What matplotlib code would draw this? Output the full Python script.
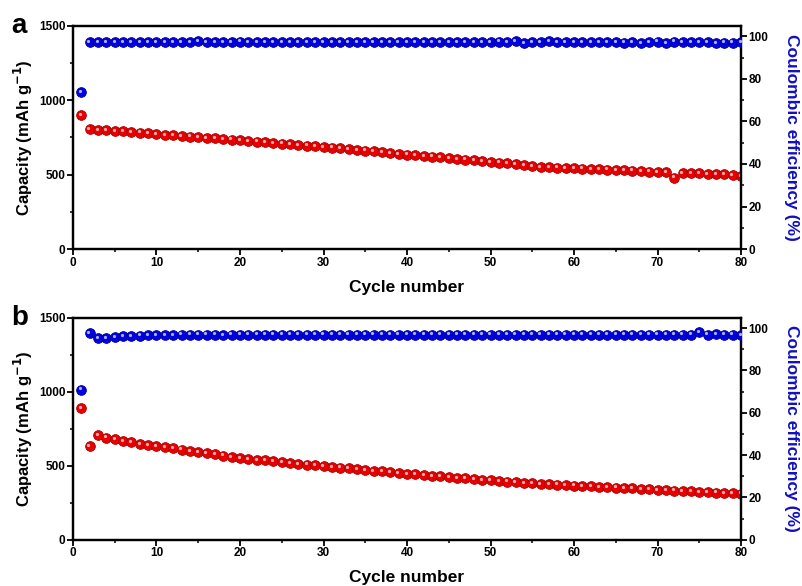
import numpy as np
import matplotlib
matplotlib.use("Agg")
import matplotlib.pyplot as plt
import matplotlib.transforms as mtransforms
from matplotlib.ticker import MultipleLocator

plt.rcParams['font.family'] = ['Liberation Sans', 'DejaVu Sans']
plt.rcParams['font.weight'] = 'bold'
plt.rcParams['mathtext.default'] = 'bf'

cycles = np.arange(1, 81)

# panel a
cap_a = [900, 805, 800, 797, 793, 790, 786, 782, 777, 772,
         768, 765, 761, 756, 752, 748, 744, 740, 735, 730,
         726, 722, 717, 713, 708, 704, 699, 695, 690, 685,
         681, 676, 671, 666, 661, 656, 651, 646, 640, 635,
         630, 626, 621, 616, 611, 606, 601, 596, 591, 586,
         581, 576, 571, 566, 558, 548, 550, 547, 545, 542,
         540, 538, 536, 534, 532, 530, 527, 524, 521, 518,
         516, 480, 512, 510, 508, 502, 506, 503, 495, 492]
eff_a = [74.0, 97.4, 97.4, 97.4, 97.5, 97.4, 97.4, 97.4, 97.4, 97.4,
         97.4, 97.4, 97.2, 97.4, 97.8, 97.4, 97.4, 97.3, 97.4, 97.6,
         97.4, 97.4, 97.4, 97.3, 97.4, 97.4, 97.4, 97.2, 97.4, 97.4,
         97.4, 97.4, 97.4, 97.4, 97.4, 97.4, 97.4, 97.3, 97.4, 97.4,
         97.4, 97.5, 97.4, 97.4, 97.4, 97.4, 97.3, 97.4, 97.4, 97.4,
         97.6, 97.4, 97.8, 96.9, 97.4, 97.3, 97.8, 97.2, 97.4, 97.4,
         97.5, 97.4, 97.3, 97.4, 97.3, 97.1, 97.4, 96.9, 97.4, 97.6,
         96.9, 97.6, 97.4, 97.4, 97.4, 97.4, 96.9, 97.1, 97.1, 97.3]

# panel b
cap_b = [890, 632, 705, 690, 678, 668, 657, 648, 640, 632,
         624, 616, 608, 600, 592, 584, 576, 568, 560, 552,
         546, 540, 535, 529, 523, 518, 513, 507, 502, 497,
         492, 487, 481, 476, 471, 466, 461, 456, 450, 445,
         441, 436, 432, 427, 423, 418, 414, 409, 405, 400,
         396, 392, 388, 385, 381, 378, 375, 372, 368, 365,
         362, 360, 357, 354, 352, 349, 346, 343, 340, 337,
         334, 332, 329, 327, 324, 321, 318, 316, 313, 311]
eff_b = [71.0, 97.6, 95.3, 95.5, 95.8, 96.1, 96.3, 96.5, 96.7, 96.8,
         96.9, 96.9, 97.0, 97.0, 97.0, 97.0, 97.0, 96.8, 97.0, 97.0,
         97.0, 97.0, 97.0, 97.0, 97.0, 97.0, 97.0, 97.0, 97.0, 97.0,
         97.0, 97.0, 97.0, 97.0, 97.0, 97.0, 97.0, 97.0, 97.0, 97.0,
         97.0, 97.0, 97.0, 97.0, 97.0, 97.0, 97.0, 97.0, 97.0, 97.0,
         97.0, 97.0, 97.0, 97.0, 97.0, 97.0, 97.0, 97.0, 97.0, 97.0,
         97.0, 97.0, 97.0, 97.0, 97.0, 97.0, 97.0, 97.0, 97.0, 97.0,
         97.0, 97.0, 97.0, 97.0, 98.1, 97.0, 97.1, 97.0, 97.0, 96.9]

red, red_edge, red_hi = '#e80000', '#a80000', '#ffb0b0'
blue, blue_edge, blue_hi = '#0000e0', '#000095', '#b0b0ff'

fig = plt.figure(figsize=(8.02, 5.86), dpi=100)


def spheres(ax, x, y, col, edge, hi):
    ax.plot(x, y, 'o', ms=7, mfc=col, mec=edge, mew=0.6, zorder=3)
    shift = mtransforms.offset_copy(ax.transData, fig=fig, x=-1.2, y=1.2, units='dots')
    ax.plot(x, y, 'o', ms=2.3, mfc=hi, mec='none', transform=shift, zorder=4)


def panel(rect, cap, eff, letter):
    ax = fig.add_axes(rect)
    ax2 = ax.twinx()
    spheres(ax, cycles, cap, red, red_edge, red_hi)
    spheres(ax2, cycles, eff, blue, blue_edge, blue_hi)

    ax.set_xlim(0, 80)
    ax.set_ylim(0, 1500)
    ax2.set_ylim(0, 105)
    ax.xaxis.set_major_locator(MultipleLocator(10))
    ax.xaxis.set_minor_locator(MultipleLocator(5))
    ax.yaxis.set_major_locator(MultipleLocator(500))
    ax.yaxis.set_minor_locator(MultipleLocator(250))
    ax2.yaxis.set_major_locator(MultipleLocator(20))
    ax2.yaxis.set_minor_locator(MultipleLocator(10))

    for a in (ax, ax2):
        a.tick_params(which='major', direction='out', length=4, width=1.3, labelsize=8.5, pad=1.5)
        a.tick_params(which='minor', direction='out', length=2.5, width=1.1)
        for s in a.spines.values():
            s.set_linewidth(1.6)
    ax.tick_params(top=False, right=False, which='both')

    ax.set_ylabel('Capacity (mAh g$^{-1}$)', fontsize=12, fontweight='bold', labelpad=3)
    ax2.set_ylabel('Coulombic efficiency (%)', fontsize=12.5, fontweight='bold',
                   color='#1010c0', rotation=270, labelpad=22)
    ax.set_xlabel('Cycle number', fontsize=12.5, fontweight='bold', labelpad=8)
    ax.text(-0.093, 1.0, letter, transform=ax.transAxes, fontsize=20,
            fontweight='bold', ha='left', va='center')
    return ax


panel([0.091, 0.575, 0.833, 0.381], cap_a, eff_a, 'a')
panel([0.091, 0.079, 0.833, 0.379], cap_b, eff_b, 'b')

fig.savefig('out.png', dpi=100)
